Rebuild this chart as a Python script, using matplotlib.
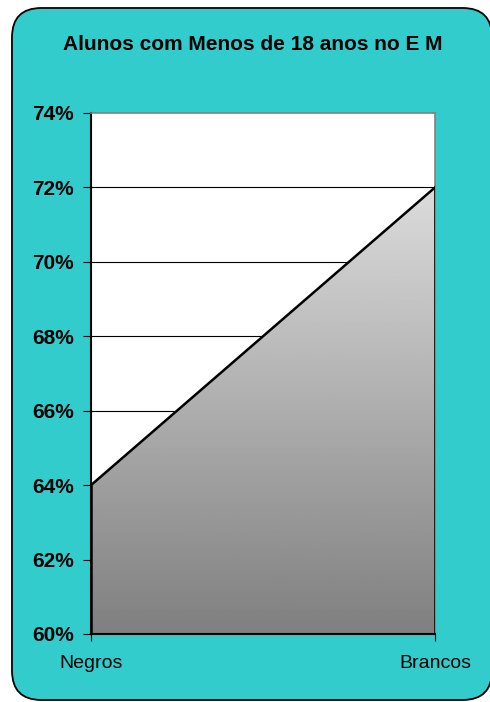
import matplotlib
matplotlib.use("Agg")
import matplotlib.pyplot as plt
import numpy as np
from matplotlib.patches import FancyBboxPatch

plt.rcParams['font.family'] = ['Liberation Sans', 'DejaVu Sans']

categories = ["Negros", "Brancos"]
values = [64, 72]
yticks = [60, 62, 64, 66, 68, 70, 72, 74]
title = "Alunos com Menos de 18 anos no E M"

fig = plt.figure(figsize=(4.9, 7.02), dpi=100)
fig.patch.set_facecolor("white")

# teal rounded panel, behind the axes
panel = FancyBboxPatch((12/490, 2/702), 480/490, 692/702,
                       boxstyle="round,pad=0,rounding_size=0.06",
                       transform=fig.transFigure, facecolor="#33CCCC",
                       edgecolor="black", linewidth=1.3, mutation_aspect=490/702,
                       zorder=-10)
fig.patches.append(panel)

fig.text(253/490, 1 - 45/702, title, ha="center", va="center",
         fontsize=15, fontweight="bold")

ax = fig.add_axes([91/490, 1 - 634/702, 344/490, 521/702])
ax.set_facecolor("white")
x = np.arange(len(categories))
ax.set_xlim(0, len(categories) - 1)
ax.set_ylim(60, 74)

for t in yticks[1:-1]:
    ax.axhline(t, color="black", linewidth=0.8, zorder=1)

poly = ax.fill_between(x, 60, values, facecolor="none", edgecolor="none", zorder=2)
grad = np.linspace(0.5, 0.86, 256).reshape(-1, 1)
img = ax.imshow(grad, extent=[0, 1, 60, 72], origin="lower", cmap="gray",
                vmin=0, vmax=1, aspect="auto", zorder=2)
img.set_clip_path(poly.get_paths()[0], transform=ax.transData)
ax.plot(x, values, color="black", linewidth=1.8, zorder=3)
ax.vlines([0, 1], 60, values, color="black", linewidth=1.8, zorder=3)

ax.set_yticks(yticks)
ax.set_yticklabels([f"{v}%" for v in yticks], fontsize=15, fontweight="bold")
ax.set_xticks(x)
ax.set_xticklabels(categories, fontsize=14)
ax.tick_params(axis="y", length=5.5, width=0.8, pad=7)
ax.tick_params(axis="x", length=5, width=0.8, pad=10, direction="out")
for s in ["top", "right"]:
    ax.spines[s].set_color("#808080")
    ax.spines[s].set_linewidth(1.2)
for s in ["left", "bottom"]:
    ax.spines[s].set_color("black")
    ax.spines[s].set_linewidth(1.5)
ax.spines["bottom"].set_zorder(4)

fig.savefig("out.png", dpi=100, facecolor="white")
